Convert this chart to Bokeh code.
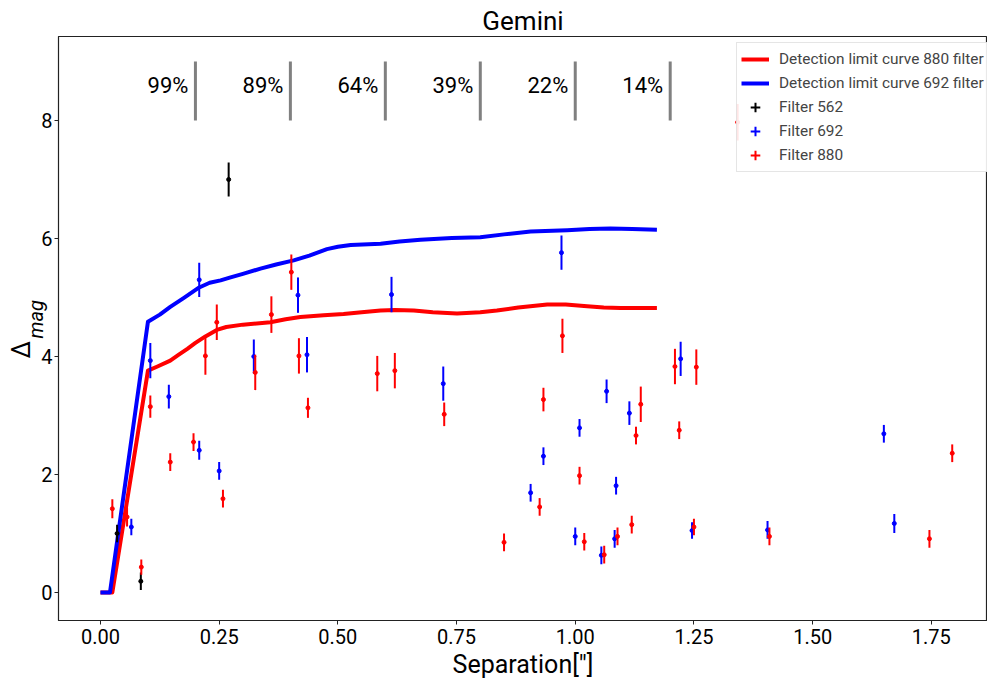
from bokeh.plotting import figure
from bokeh.models import (Range1d, FixedTicker, NumeralTickFormatter, Title,
                          Legend, LegendItem, ColumnDataSource)
from bokeh.core.properties import value
from bokeh.embed import file_html
from bokeh.resources import INLINE

# ---- data ----
curve880_sep = [0, 0.025, 0.1, 0.12, 0.147, 0.165, 0.183, 0.2, 0.221, 0.245, 0.265,
                0.3, 0.358, 0.39, 0.421, 0.47, 0.512, 0.55, 0.59, 0.62, 0.66, 0.7,
                0.751, 0.8, 0.835, 0.88, 0.941, 0.98, 1.025, 1.06, 1.095, 1.172]
curve880_mag = [0, 0, 3.76, 3.83, 3.93, 4.03, 4.13, 4.23, 4.34, 4.45, 4.5,
                4.54, 4.58, 4.63, 4.67, 4.7, 4.72, 4.75, 4.78, 4.79, 4.78, 4.75,
                4.73, 4.75, 4.78, 4.83, 4.88, 4.88, 4.85, 4.83, 4.82, 4.82]

curve692_sep = [0, 0.02, 0.1, 0.125, 0.147, 0.175, 0.208, 0.23, 0.253, 0.274, 0.3,
                0.337, 0.37, 0.407, 0.44, 0.477, 0.5, 0.527, 0.59, 0.63, 0.674,
                0.74, 0.8, 0.85, 0.906, 0.983, 1.03, 1.074, 1.12, 1.172]
curve692_mag = [0, 0, 4.59, 4.71, 4.84, 4.99, 5.17, 5.25, 5.29, 5.34, 5.4,
                5.49, 5.56, 5.63, 5.71, 5.82, 5.86, 5.89, 5.91, 5.95, 5.98,
                6.01, 6.02, 6.07, 6.12, 6.14, 6.16, 6.17, 6.16, 6.15]

f562_sep = [0.035, 0.085, 0.27]
f562_mag = [1.0, 0.19, 7.0]
f562_err = [0.15, 0.15, 0.29]

f692_sep = [0.065, 0.105, 0.144, 0.208, 0.208, 0.25, 0.323, 0.416, 0.435, 0.613,
            0.722, 0.906, 0.933, 0.971, 1.0, 1.009, 1.055, 1.066, 1.086, 1.083,
            1.114, 1.222, 1.246, 1.405, 1.65, 1.672]
f692_mag = [1.11, 3.93, 3.32, 2.41, 5.3, 2.06, 4.0, 5.04, 4.03, 5.05,
            3.54, 1.69, 2.31, 5.76, 0.95, 2.79, 0.63, 3.41, 1.81, 0.91,
            3.04, 3.96, 1.05, 1.06, 2.69, 1.17]
f692_err = [0.14, 0.3, 0.2, 0.16, 0.29, 0.15, 0.29, 0.3, 0.3, 0.3,
            0.29, 0.15, 0.15, 0.29, 0.15, 0.15, 0.15, 0.2, 0.15, 0.15,
            0.2, 0.29, 0.14, 0.15, 0.15, 0.16]

f880_sep = [0.025, 0.056, 0.086, 0.105, 0.147, 0.196, 0.221, 0.245, 0.258, 0.326,
            0.36, 0.402, 0.418, 0.437, 0.583, 0.62, 0.724, 0.85, 0.925, 0.933,
            0.973, 1.009, 1.019, 1.061, 1.089, 1.119, 1.128, 1.138, 1.21, 1.219,
            1.25, 1.255, 1.342, 1.409, 1.746, 1.794]
f880_mag = [1.42, 1.28, 0.43, 3.15, 2.21, 2.55, 4.01, 4.58, 1.59, 3.73,
            4.71, 5.43, 4.01, 3.13, 3.71, 3.76, 3.02, 0.85, 1.45, 3.27,
            4.35, 1.98, 0.86, 0.64, 0.95, 1.15, 2.66, 3.19, 3.83, 2.75,
            1.11, 3.82, 7.97, 0.95, 0.91, 2.36]
f880_err = [0.16, 0.16, 0.13, 0.19, 0.15, 0.15, 0.32, 0.3, 0.15, 0.3,
            0.31, 0.3, 0.3, 0.17, 0.3, 0.3, 0.2, 0.15, 0.15, 0.2,
            0.29, 0.15, 0.15, 0.15, 0.15, 0.15, 0.15, 0.3, 0.3, 0.15,
            0.14, 0.3, 0.31, 0.15, 0.15, 0.15]

mark_sep = [0.2, 0.4, 0.6, 0.8, 1.0, 1.2]
mark_labels = ["99%", "89%", "64%", "39%", "22%", "14%"]
mark_low, mark_high, mark_text_y = 8.0, 9.0, 8.6

x_ticks = [0, 0.25, 0.5, 0.75, 1.0, 1.25, 1.5, 1.75]
y_ticks = [0, 2, 4, 6, 8]

FONT = "Roboto"

p = figure(frame_width=929, frame_height=584,
           min_border_left=58, min_border_right=0, min_border_top=36, min_border_bottom=64,
           x_range=Range1d(-0.0884, 1.8683), y_range=Range1d(-0.475, 9.424),
           output_backend="svg", toolbar_location=None, title="Gemini")
p.background_fill_color = "white"
p.border_fill_color = "white"
p.outline_line_color = "#222222"
p.outline_line_width = 1.2
p.grid.visible = False

p.title.text_font = FONT
p.title.text_font_size = "26px"
p.title.text_font_style = "normal"
p.title.align = "center"
p.title.text_color = "black"
p.title.standoff = 2
p.title.offset = 0

for ax in (p.xaxis[0], p.yaxis[0]):
    ax.major_label_text_font = FONT
    ax.major_label_text_font_size = "20px"
    ax.major_label_text_color = "black"
    ax.major_tick_out = 4
    ax.major_tick_in = 0
    ax.minor_tick_out = 0
    ax.minor_tick_in = 0
    ax.axis_line_color = "#222222"
    ax.major_tick_line_color = "#222222"

p.xaxis.ticker = FixedTicker(ticks=x_ticks)
p.xaxis.formatter = NumeralTickFormatter(format="0.00")
p.xaxis.major_label_standoff = 4
p.xaxis.axis_label = 'Separation["]'
p.xaxis.axis_label_text_font = FONT
p.xaxis.axis_label_text_font_size = "25px"
p.xaxis.axis_label_text_font_style = "normal"
p.xaxis.axis_label_text_color = "black"
p.xaxis.axis_label_standoff = 3

p.yaxis.ticker = FixedTicker(ticks=y_ticks)
p.yaxis.major_label_standoff = 2

# y axis label: Delta with subscript "mag" (two left-side titles)
p.add_layout(Title(text="mag", text_font=FONT, text_font_size="20px",
                   text_font_style="italic", text_color="black", align="left",
                   offset=282, standoff=-19, text_line_height=0.8), "left")
p.add_layout(Title(text="Δ", text_font=FONT, text_font_size="25px",
                   text_font_style="normal", text_color="black", align="left",
                   offset=262, standoff=-8, text_line_height=0.8), "left")

# detection limit curves
red_line = p.line(curve880_sep, curve880_mag, line_color="#ff0000", line_width=4,
                  line_join="round")
blue_line = p.line(curve692_sep, curve692_mag, line_color="#0000ff", line_width=4,
                   line_join="round")


def errpoints(xs, ys, es, color):
    src = ColumnDataSource(dict(x=xs, y=ys,
                                lo=[a - b for a, b in zip(ys, es)],
                                hi=[a + b for a, b in zip(ys, es)]))
    p.segment(x0="x", y0="lo", x1="x", y1="hi", source=src,
              line_color=color, line_width=2)
    p.scatter(x="x", y="y", source=src, marker="circle", size=4,
              fill_color=color, line_color=color)
    leg = p.scatter(x="x", y="y", source=src, marker="cross", size=0,
                    line_color=color, line_width=2)
    return leg


r562 = errpoints(f562_sep, f562_mag, f562_err, "black")
r692 = errpoints(f692_sep, f692_mag, f692_err, "#0000ff")
r880 = errpoints(f880_sep, f880_mag, f880_err, "#ff0000")

# completeness markers
msrc = ColumnDataSource(dict(x=mark_sep, lo=[mark_low] * len(mark_sep),
                             hi=[mark_high] * len(mark_sep),
                             ty=[mark_text_y] * len(mark_sep), t=mark_labels))
p.segment(x0="x", y0="lo", x1="x", y1="hi", source=msrc,
          line_color="#808080", line_width=3)
p.text(x="x", y="ty", text="t", source=msrc, text_align="right",
       text_baseline="middle", x_offset=-7, text_font=value(FONT),
       text_font_size="22px", text_color="black")

legend = Legend(items=[
    LegendItem(label="Detection limit curve 880 filter", renderers=[red_line]),
    LegendItem(label="Detection limit curve 692 filter", renderers=[blue_line]),
    LegendItem(label="Filter 562", renderers=[r562]),
    LegendItem(label="Filter 692", renderers=[r692]),
    LegendItem(label="Filter 880", renderers=[r880]),
], location=(678, 448))
legend.label_text_font = FONT
legend.label_text_font_size = "15.4px"
legend.label_height = 24
legend.glyph_height = 24
legend.glyph_width = 28
legend.spacing = 0
legend.padding = 4
legend.margin = 0
legend.label_standoff = 10
legend.border_line_color = "#cccccc"
legend.border_line_width = 1
legend.background_fill_alpha = 0.9
p.add_layout(legend)

open("out.html", "w").write(file_html(p, INLINE))
